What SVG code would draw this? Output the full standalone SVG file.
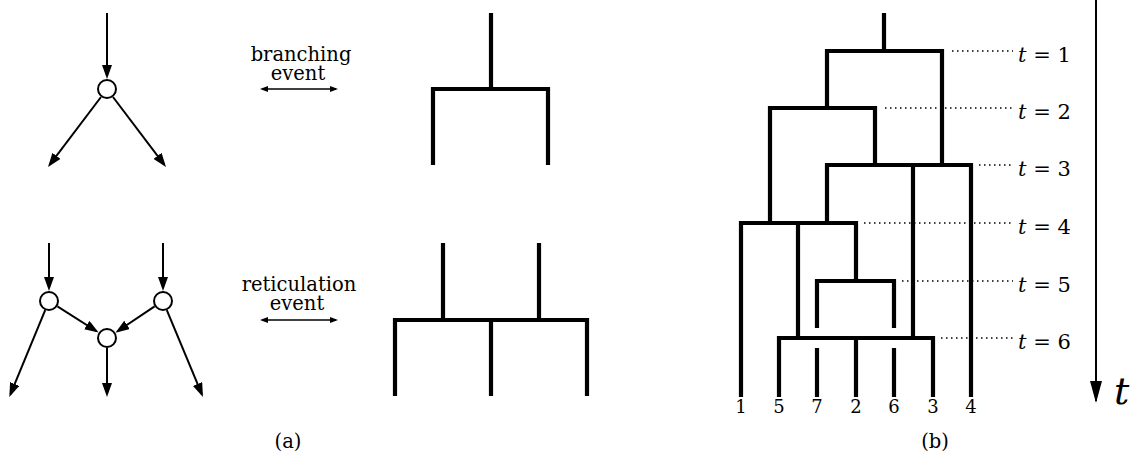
<svg xmlns="http://www.w3.org/2000/svg" width="1132" height="459" viewBox="0 0 1132 459">
<style>
.bg{fill:#fff}
.node{fill:#fff;stroke:#000;stroke-width:2}
.arr{fill:none;stroke:#000;stroke-width:2;marker-end:url(#ah)}
.dbl{fill:none;stroke:#000;stroke-width:1.3;marker-start:url(#sh);marker-end:url(#sh)}
.tree{fill:none;stroke:#000;stroke-width:4.2;stroke-linejoin:miter;stroke-linecap:butt}
.dot{fill:none;stroke:#000;stroke-width:1.5;stroke-dasharray:1.5 3.5}
.lbl{font-family:"DejaVu Serif","Liberation Serif",serif;font-size:19.5px;fill:#000;text-anchor:middle}
.leaf{font-family:"DejaVu Serif","Liberation Serif",serif;font-size:18px;fill:#000;text-anchor:middle}
.tl{font-family:"DejaVu Serif","Liberation Serif",serif;font-size:21px;fill:#000}
.it{font-style:italic}
</style>
<defs>
<marker id="ah" markerUnits="userSpaceOnUse" markerWidth="14" markerHeight="10" refX="11" refY="5" orient="auto"><path d="M0,0 L14,5 L0,10 z" fill="#000"/></marker>
<marker id="sh" markerUnits="userSpaceOnUse" markerWidth="8" markerHeight="6" refX="6" refY="3" orient="auto-start-reverse"><path d="M0,0 L8,3 L0,6 z" fill="#000"/></marker>
<marker id="th" markerUnits="userSpaceOnUse" markerWidth="22" markerHeight="12" refX="20" refY="6" orient="auto"><path d="M0,0 L22,6 L0,12 z" fill="#000"/></marker>
</defs>
<rect class="bg" x="0" y="0" width="1132" height="459"/>

<g id="connectors">
<path class="arr" d="M107,13 L107,76"/>
<path class="arr" d="M101,97 L49.8,164.6"/>
<path class="arr" d="M113,97 L164.2,164.6"/>
<path class="arr" d="M49,243 L49,288"/>
<path class="arr" d="M163,243 L163,288"/>
<path class="arr" d="M57.4,306.4 L96.1,331"/>
<path class="arr" d="M154.6,306.4 L117.9,331"/>
<path class="arr" d="M45.2,310.2 L10.5,394.2"/>
<path class="arr" d="M166.8,310.2 L201.8,394.2"/>
<path class="arr" d="M107,348 L107,394"/>
<path class="dbl" d="M262,89 L336,89"/>
<path class="dbl" d="M262,320 L336,320"/>
</g>

<g id="node-branch"><circle class="node" cx="107" cy="89" r="9"/></g>
<g id="node-ret-left"><circle class="node" cx="49" cy="301" r="9"/></g>
<g id="node-ret-right"><circle class="node" cx="163" cy="301" r="9"/></g>
<g id="node-ret-mid"><circle class="node" cx="107" cy="338" r="9"/></g>

<g id="label-branching">
<text class="lbl"><tspan x="301" y="61">branching</tspan><tspan x="298" y="80">event</tspan></text>
</g>
<g id="label-reticulation">
<text class="lbl"><tspan x="299" y="291">reticulation</tspan><tspan x="297" y="310">event</tspan></text>
</g>

<g id="tree-a-branch">
<path class="tree" d="M491,13 L491,89"/>
<path class="tree" d="M433,165 L433,89 L548,89 L548,165"/>
</g>
<g id="tree-a-reticulation">
<path class="tree" d="M443,243 L443,320"/>
<path class="tree" d="M539,243 L539,320"/>
<path class="tree" d="M395,396 L395,320 L587,320 L587,396"/>
<path class="tree" d="M491,320 L491,396"/>
</g>

<g id="time-guides">
<path class="dot" d="M952,51 L1013,51"/>
<path class="dot" d="M885,108 L1013,108"/>
<path class="dot" d="M979,165 L1013,165"/>
<path class="dot" d="M864,223 L1013,223"/>
<path class="dot" d="M902,281 L1013,281"/>
<path class="dot" d="M941,338 L1013,338"/>
</g>

<g id="tree-b">
<path class="tree" d="M884,13 L884,51"/>
<path class="tree" d="M827,108 L827,51 L942,51 L942,165"/>
<path class="tree" d="M770,223 L770,108 L875,108 L875,165"/>
<path class="tree" d="M827,223 L827,165 L971,165 L971,397"/>
<path class="tree" d="M913,165 L913,338"/>
<path class="tree" d="M741,397 L741,223 L856,223 L856,281"/>
<path class="tree" d="M798,223 L798,338"/>
<path class="tree" d="M817,328 L817,281 L894,281 L894,328"/>
<path class="tree" d="M779,397 L779,338 L933,338 L933,397"/>
<path class="tree" d="M856,338 L856,397"/>
<path class="tree" d="M817,348 L817,397"/>
<path class="tree" d="M894,348 L894,397"/>
</g>

<g id="leaf-labels">
<text class="leaf" x="741" y="413">1</text>
<text class="leaf" x="779" y="413">5</text>
<text class="leaf" x="817" y="413">7</text>
<text class="leaf" x="856" y="413">2</text>
<text class="leaf" x="894" y="413">6</text>
<text class="leaf" x="933" y="413">3</text>
<text class="leaf" x="971" y="413">4</text>
</g>

<g id="time-labels">
<text class="tl" x="1018" y="62"><tspan class="it">t</tspan> = 1</text>
<text class="tl" x="1018" y="119"><tspan class="it">t</tspan> = 2</text>
<text class="tl" x="1018" y="176"><tspan class="it">t</tspan> = 3</text>
<text class="tl" x="1018" y="234"><tspan class="it">t</tspan> = 4</text>
<text class="tl" x="1018" y="292"><tspan class="it">t</tspan> = 5</text>
<text class="tl" x="1018" y="349"><tspan class="it">t</tspan> = 6</text>
</g>

<g id="time-axis">
<path d="M1096,0 L1096,401" fill="none" stroke="#000" stroke-width="2" marker-end="url(#th)"/>
<text x="1114" y="404" font-family="DejaVu Serif, Liberation Serif, serif" font-style="italic" font-size="38" fill="#000">t</text>
</g>

<g id="captions">
<text class="lbl" x="288" y="448">(a)</text>
<text class="lbl" x="935" y="448">(b)</text>
</g>
</svg>
